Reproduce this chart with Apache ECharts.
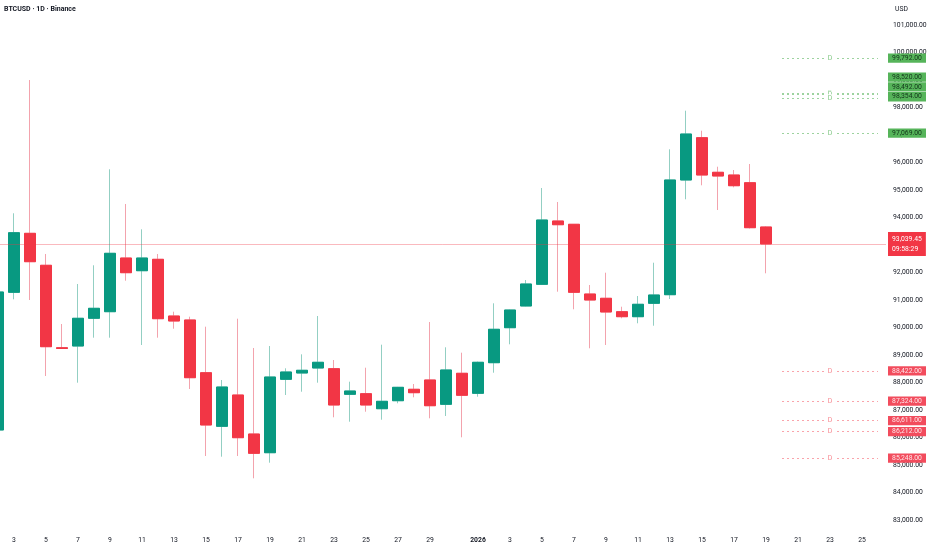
<!DOCTYPE html>
<html>
<head>
<meta charset="utf-8">
<script src="https://cdn.jsdelivr.net/npm/echarts@6/dist/echarts.min.js"></script>
<style>
html,body{margin:0;padding:0;background:#fff;}
#chart{width:932px;height:550px;}
</style>
</head>
<body>
<div id="chart"></div>
<script>
const dates = [
 '2025-12-02','2025-12-03','2025-12-04','2025-12-05','2025-12-06','2025-12-07','2025-12-08','2025-12-09','2025-12-10','2025-12-11',
 '2025-12-12','2025-12-13','2025-12-14','2025-12-15','2025-12-16','2025-12-17','2025-12-18','2025-12-19','2025-12-20','2025-12-21',
 '2025-12-22','2025-12-23','2025-12-24','2025-12-25','2025-12-26','2025-12-27','2025-12-28','2025-12-29','2025-12-30','2025-12-31',
 '2026-01-01','2026-01-02','2026-01-03','2026-01-04','2026-01-05','2026-01-06','2026-01-07','2026-01-08','2026-01-09','2026-01-10',
 '2026-01-11','2026-01-12','2026-01-13','2026-01-14','2026-01-15','2026-01-16','2026-01-17','2026-01-18','2026-01-19','2026-01-20',
 '2026-01-21','2026-01-22','2026-01-23','2026-01-24','2026-01-25','2026-01-26'
];
const opens  = [86273,91280,93425,92262,89265,89327,90335,90575,92527,92065,92480,90418,90273,88356,86407,87545,86127,85447,88116,88345,88527,88502,87571,87593,87047,87338,87753,88091,87207,88335,87607,88720,89993,90782,91571,93873,93753,91218,91062,90575,90393,90880,91193,95364,96902,95644,95545,95265,93655];
const closes = [91291,93447,92393,89302,89236,90335,90698,92698,91993,92527,90320,90236,88175,86455,87836,85993,85425,88200,88382,88444,88735,87182,87691,87182,87316,87825,87629,87156,88455,87535,88735,89935,90636,91582,93909,93738,91280,91000,90564,90393,90844,91182,95364,97036,95545,95509,95156,93629,93039.45];
const lows   = [86150,91025,91000,88236,89230,87993,89629,89629,91702,89364,89629,89956,87764,85327,85302,85327,84516,85084,87545,87665,87993,86735,86575,86938,86647,87244,87462,86698,86782,86007,87484,88356,89389,90770,91550,91302,90662,89244,89364,90335,90153,90065,91036,94662,95171,94273,95098,93600,91971];
const highs  = [91500,94153,99000,92673,90127,91582,92262,95753,94491,93571,92673,90575,90393,90029,88091,90320,89255,89327,88516,89025,90418,88818,88029,88538,89375,87840,87945,90200,89280,89084,88760,90880,90650,91727,95073,94564,93760,91545,91993,90756,91145,92356,96480,97884,97156,95847,95727,95945,93680];
const lastPrice = 93039.45;
const countdown = '09:58:29';
const greenLevels = [99792, 98520, 98492, 98354, 97069];
const redLevels = [88422, 87324, 86611, 86212, 85248];
const yTicks = {min: 82000, max: 102000, step: 1000};
// label stacking shifts (style only, px)
const greenShift = [0, -16, -7, -1, 0];
const redShift = [0, 0, 0, 0, 0];

const fmt = v => v.toLocaleString('en-US', {minimumFractionDigits: 2, maximumFractionDigits: 2});
const FONT = 'Roboto';
const UP = '#089981', DOWN = '#f23645';
const UP_WICK = '#93cfc3', DOWN_WICK = '#f3a3ad';

const fullData = opens.map((o, i) => [o, closes[i], lows[i], highs[i]]);
const bodyData = opens.map((o, i) => [o, closes[i], Math.min(o, closes[i]), Math.max(o, closes[i])]);

const lineStart = dates.indexOf('2026-01-20');
const lineEnd = dates.indexOf('2026-01-26');

function levelLines(levels, color, textColor) {
  return levels.map(v => [
    {xAxis: lineStart, yAxis: v, lineStyle: {color: color, type: [2, 3], width: 1},
     label: {show: true, position: 'middle', distance: 0, verticalAlign: 'middle', formatter: 'D',
             color: textColor, fontSize: 7, fontFamily: FONT, backgroundColor: '#fff', padding: [0, 2]}},
    {xAxis: lineEnd, yAxis: v}
  ]);
}
function levelBoxes(levels, shifts, bg, fg) {
  return levels.map((v, i) => ({
    coord: [lineEnd, v], value: v,
    symbol: 'rect', symbolSize: [38, 9.3], symbolOffset: [29, shifts[i]],
    itemStyle: {color: bg},
    label: {show: true, position: 'inside', formatter: fmt(v), color: fg, fontSize: 6.8, fontFamily: FONT}
  }));
}

const chart = echarts.init(document.getElementById('chart'), null, {renderer: 'canvas'});
chart.setOption({
  animation: false,
  backgroundColor: '#ffffff',
  title: [
    {text: 'BTCUSD · 1D · Binance', left: 4, top: 6, padding: 0,
     textStyle: {fontSize: 7, fontWeight: 'bold', color: '#131722', fontFamily: FONT}},
    {text: 'USD', left: 895, top: 6, padding: 0,
     textStyle: {fontSize: 6.8, fontWeight: 'normal', color: '#131722', fontFamily: FONT}}
  ],
  grid: {left: -10, right: 46, top: -2.5, bottom: 2.5, containLabel: false, outerBoundsMode: 'none'},
  xAxis: {
    type: 'category', data: dates, boundaryGap: true,
    axisLine: {show: false}, axisTick: {show: false}, splitLine: {show: false},
    axisLabel: {
      inside: true, margin: 3.5, fontSize: 6.8, color: '#131722', fontFamily: FONT,
      interval: function (idx, val) {
        const d = +val.slice(8, 10);
        return d % 2 === 1 && d !== 31;
      },
      formatter: function (val) {
        const d = +val.slice(8, 10);
        if (val.slice(5, 10) === '01-01') return '{b|' + val.slice(0, 4) + '}';
        return String(d);
      },
      rich: {b: {fontWeight: 'bold', fontSize: 6.8, color: '#131722', fontFamily: FONT}}
    }
  },
  yAxis: {
    type: 'value', position: 'right', scale: true,
    min: yTicks.min, max: yTicks.max, interval: yTicks.step,
    axisLine: {show: false}, axisTick: {show: false}, splitLine: {show: false},
    axisLabel: {
      margin: 7, fontSize: 6.8, color: '#131722', fontFamily: FONT,
      showMinLabel: false, showMaxLabel: false,
      formatter: v => fmt(v)
    }
  },
  series: [
    {
      name: 'wicks', type: 'candlestick', data: fullData, barWidth: 12, clip: false, silent: true,
      itemStyle: {color: UP_WICK, color0: DOWN_WICK, borderColor: UP_WICK, borderColor0: DOWN_WICK, borderWidth: 1}
    },
    {
      name: 'BTCUSD', type: 'candlestick', data: bodyData, barWidth: 12, clip: false, silent: true,
      itemStyle: {color: UP, color0: DOWN, borderColor: UP, borderColor0: DOWN, borderWidth: 1},
      markLine: {
        silent: true, symbol: ['none', 'none'], animation: false,
        data: [
          {yAxis: lastPrice, lineStyle: {color: 'rgba(242,54,69,0.35)', type: 'solid', width: 1},
           label: {show: true, position: 'end', distance: 2, formatter: fmt(lastPrice) + '\n' + countdown,
                   backgroundColor: DOWN, color: '#ffffff', fontSize: 6.8, lineHeight: 10, padding: [2, 4, 2, 4],
                   fontFamily: FONT}},
          ...levelLines(greenLevels, 'rgba(76,175,80,0.55)', 'rgba(76,175,80,0.7)'),
          ...levelLines(redLevels, 'rgba(242,54,69,0.45)', 'rgba(242,54,69,0.6)')
        ]
      },
      markPoint: {
        silent: true, animation: false,
        data: [
          ...levelBoxes(greenLevels, greenShift, '#56b45a', '#12361a'),
          ...levelBoxes(redLevels, redShift, '#f24c5d', '#ffe3e6')
        ]
      }
    }
  ]
});
</script>
</body>
</html>
